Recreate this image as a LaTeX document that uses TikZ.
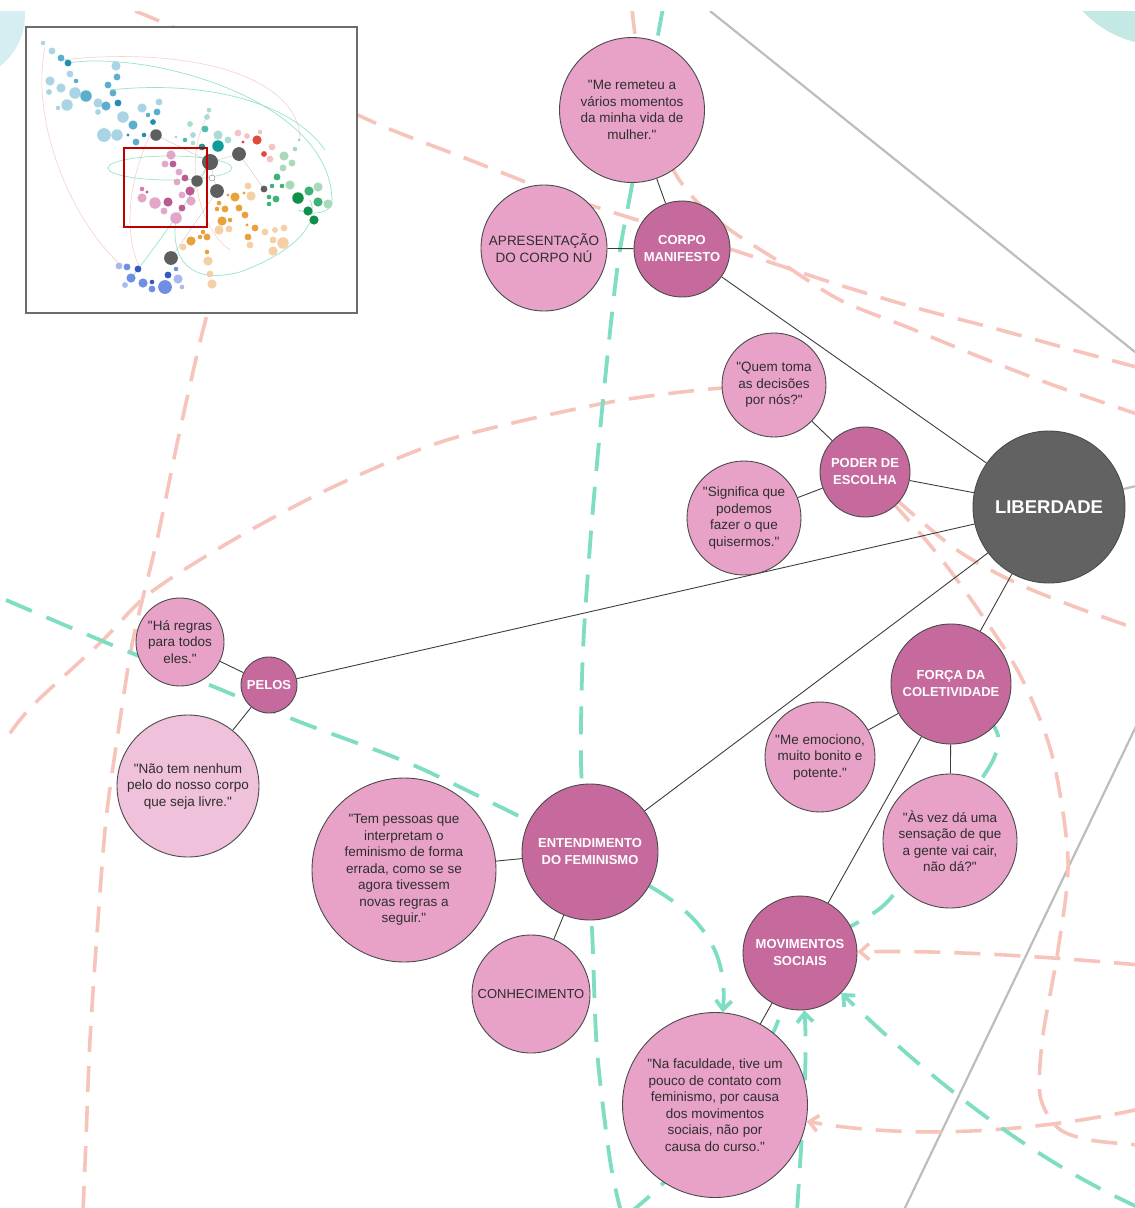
\documentclass[tikz,border=0pt]{standalone}
\usepackage{fontspec}
\setmainfont{Liberation Sans}[Ligatures=TeXOff]
\usetikzlibrary{arrows.meta}
\pgfdeclarelayer{background}
\pgfsetlayers{background,main}
\definecolor{quotefill}{HTML}{E8A2C8}
\definecolor{naofill}{HTML}{EFC1DA}
\definecolor{catfill}{HTML}{C66A9E}
\definecolor{hubfill}{HTML}{626262}
\definecolor{circborder}{HTML}{4A4A4A}
\definecolor{quotetext}{HTML}{2E2E2E}
\definecolor{pinkc}{HTML}{F7C4BC}
\definecolor{greenc}{HTML}{7EDDC2}
\definecolor{grayc}{HTML}{BDBDBD}
\definecolor{linkcol}{HTML}{3D3D3D}
\definecolor{tealtl}{HTML}{D6EEF2}
\definecolor{tealtr}{HTML}{C4E8E4}
% minimap colours
\definecolor{mmtl}{HTML}{A9D4E4}\definecolor{mmtm}{HTML}{5CAFCC}\definecolor{mmtd}{HTML}{1E8FB0}
\definecolor{mmcl}{HTML}{A8DCD4}\definecolor{mmcm}{HTML}{4DBDB0}\definecolor{mmcd}{HTML}{0E9C9A}
\definecolor{mmgy}{HTML}{5E5E5E}
\definecolor{mmrd}{HTML}{E04A3A}\definecolor{mmrl}{HTML}{F2C6C0}
\definecolor{mmgl}{HTML}{A9D9BA}\definecolor{mmgm}{HTML}{3DB276}\definecolor{mmgd}{HTML}{0F8F4A}
\definecolor{mmol}{HTML}{F5CFA5}\definecolor{mmom}{HTML}{E9A23B}
\definecolor{mmpl}{HTML}{E2A6C8}\definecolor{mmpm}{HTML}{D27FAE}\definecolor{mmpd}{HTML}{BE5A92}
\definecolor{mmbl}{HTML}{A9B9EE}\definecolor{mmbm}{HTML}{6E8FE3}\definecolor{mmbd}{HTML}{3656C2}
\newcommand\mmdot[4]{\fill[fill=mm#4] (#1,#2) circle[radius=1.15*#3pt];}
\begin{document}
\begin{tikzpicture}[x=1pt,y=-1pt,
  base/.style={circle, draw=circborder, line width=0.9pt, inner sep=0pt, align=center,
    font=\fontsize{13.5}{16.5}\selectfont},
  quote/.style={base, fill=quotefill, text=quotetext},
  cat/.style={base, fill=catfill, text=white, font=\bfseries\fontsize{13}{17}\selectfont},
  hub/.style={base, fill=hubfill, text=white, font=\bfseries\fontsize{18.5}{22}\selectfont},
  link/.style={draw=linkcol, line width=0.9pt},
  pinkdash/.style={draw=pinkc, line width=3.6pt, dash pattern=on 26pt off 14pt},
  greendash/.style={draw=greenc, line width=3.8pt, dash pattern=on 28pt off 16pt},
  grayline/.style={draw=grayc, line width=2.2pt},
  tiparrow/.style={-{Straight Barb[length=9pt,width=16pt]}},
  mmp/.style={draw=pinkc, line width=0.6pt, opacity=0.8},
  mmt/.style={draw=greenc, line width=0.7pt, opacity=0.8},
  mml/.style={draw=gray, line width=0.3pt, opacity=0.5}]
\useasboundingbox (0,0) rectangle (1135,1208);

% ---------------- circles ----------------
\node[quote, minimum size=145pt] (q1) at (632,110) {"Me remeteu a\\vários momentos\\da minha vida de\\mulher."};
\node[quote, minimum size=126pt, font=\fontsize{13.5}{17}\selectfont] (apres) at (544,248) {APRESENTAÇÃO\\DO CORPO NÚ};
\node[cat, minimum size=96pt] (corpo) at (682,249) {CORPO\\MANIFESTO};
\node[quote, minimum size=104pt] (quem) at (774,385) {"Quem toma\\as decisões\\por nós?"};
\node[cat, minimum size=90pt] (poder) at (865,472) {PODER DE\\ESCOLHA};
\node[quote, minimum size=114pt] (signif) at (744,518) {"Significa que\\podemos\\fazer o que\\quisermos."};
\node[hub, minimum size=152pt] (lib) at (1049,507) {LIBERDADE};
\node[quote, minimum size=88pt] (hares) at (180,642) {"Há regras\\para todos\\eles."};
\node[cat, minimum size=56pt] (pelos) at (269,685) {PELOS};
\node[quote, fill=naofill, minimum size=142pt] (nao) at (188,786) {"Não tem nenhum\\pelo do nosso corpo\\que seja livre."};
\node[quote, minimum size=184pt] (tem) at (404,870) {"Tem pessoas que\\interpretam o\\feminismo de forma\\errada, como se se\\agora tivessem\\novas regras a\\seguir."};
\node[cat, minimum size=136pt] (entend) at (590,852) {ENTENDIMENTO\\DO FEMINISMO};
\node[quote, minimum size=118pt, font=\fontsize{13}{16.5}\selectfont] (conhec) at (531,994) {CONHECIMENTO};
\node[cat, minimum size=120pt] (forca) at (951,684) {FORÇA DA\\COLETIVIDADE};
\node[quote, minimum size=110pt] (emoc) at (820,757) {"Me emociono,\\muito bonito e\\potente."};
\node[quote, minimum size=134pt] (asvez) at (950,841) {"Às vez dá uma\\sensação de que\\a gente vai cair,\\não dá?"};
\node[cat, minimum size=114pt] (movi) at (800,953) {MOVIMENTOS\\SOCIAIS};
\node[quote, minimum size=185pt] (nafac) at (715,1105) {"Na faculdade, tive um\\pouco de contato com\\feminismo, por causa\\dos movimentos\\sociais, não por\\causa do curso."};

% free ends of background curves
\coordinate (p1s) at (135,11);   \coordinate (p1e) at (1140,368);
\coordinate (p2s) at (632,8);    \coordinate (p2e) at (1140,415);
\coordinate (p3e) at (1140,1145);
\coordinate (p4e) at (1140,630);
\coordinate (pae) at (8,736);
\coordinate (p5s) at (228,240);  \coordinate (p5e) at (83,1212);
\coordinate (p6s) at (1140,965);
\coordinate (p7s) at (1140,1109);
\coordinate (g1s) at (663,8);    \coordinate (g1e) at (621,1212);
\coordinate (g2s) at (6,600);
\coordinate (g4s) at (797,1212);
\coordinate (g5s) at (628,1214);
\coordinate (g7s) at (1140,1208);
\coordinate (l1s) at (710,11);   \coordinate (l1e) at (1140,356);
\coordinate (l2e) at (1140,485);
\coordinate (l3s) at (1140,718); \coordinate (l3e) at (903,1212);

\begin{pgfonlayer}{background}
\begin{scope}
\clip (0,11) rectangle (1135,1208);
% corner circles of neighbouring clusters
\fill[tealtl] (-40,15) circle[radius=65pt];
\fill[tealtr] (1160,-60) circle[radius=105pt];
% gray lines
\draw[grayline] (l1s) -- (l1e);
\draw[grayline] (lib) -- (l2e);
\draw[grayline] (l3s) -- (l3e);
% pink dashed curves
\draw[pinkdash] plot[smooth] coordinates {(p1s) (175,28) (280,78) (380,125) (470,160) (560,195) (650,224) (733,250) (833,283) (913,307) (993,328) (1073,350) (p1e)};
\draw[pinkdash] plot[smooth] coordinates {(p2s) (636,40) (652,120) (675,173) (700,205) (733,232) (780,262) (840,300) (907,327) (980,357) (1053,385) (p2e)};
\draw[pinkdash] plot[smooth] coordinates {(poder) (930,545) (975,605) (1020,675) (1052,755) (1068,860) (1058,950) (1043,1035) (1040,1095) (1058,1128) (1090,1140) (p3e)};
\draw[pinkdash] plot[smooth] coordinates {(poder) (950,545) (1010,580) (1070,605) (p4e)};
\draw[pinkdash] plot[smooth] coordinates {(quem) (700,390) (600,404) (447,440) (333,487) (233,540) (150,593) (100,643) (33,705) (pae)};
\draw[pinkdash] plot[smooth] coordinates {(p5s) (203,330) (180,430) (157,540) (133,640) (117,740) (106,820) (98,920) (90,1040) (86,1140) (p5e)};
\draw[pinkdash, tiparrow] (p6s) .. controls (1050,957) and (950,950) .. (movi);
\draw[pinkdash, tiparrow] (p7s) .. controls (1020,1135) and (900,1138) .. (nafac);
% green dashed curves
\draw[greendash] plot[smooth] coordinates {(g1s) (648,90) (632,185) (618,263) (605,380) (592,520) (583,650) (581,760) (586,853) (592,930) (597,1050) (610,1160) (g1e)};
\draw[greendash] plot[smooth] coordinates {(g2s) (100,640) (200,681) (300,722) (420,768) (entend)};
\draw[greendash, tiparrow] (entend) .. controls (700,915) and (728,950) .. (nafac);
\draw[greendash, tiparrow] (g4s) .. controls (802,1130) and (808,1060) .. (movi);
\draw[greendash] (g5s) .. controls (680,1175) and (760,1080) .. (movi);
\draw[greendash] plot[smooth] coordinates {(forca) (995,728) (994,758) (962,806) (910,872) (878,910) (movi)};
\draw[greendash, tiparrow] (g7s) .. controls (1010,1150) and (900,1050) .. (movi);
\end{scope}
% links between circles
\draw[link] (q1) -- (corpo);
\draw[link] (apres) -- (corpo);
\draw[link] (corpo) -- (lib);
\draw[link] (quem) -- (poder);
\draw[link] (signif) -- (poder);
\draw[link] (poder) -- (lib);
\draw[link] (pelos) -- (lib);
\draw[link] (hares) -- (pelos);
\draw[link] (nao) -- (pelos);
\draw[link] (entend) -- (lib);
\draw[link] (tem) -- (entend);
\draw[link] (conhec) -- (entend);
\draw[link] (forca) -- (lib);
\draw[link] (emoc) -- (forca);
\draw[link] (asvez) -- (forca);
\draw[link] (movi) -- (forca);
\draw[link] (nafac) -- (movi);
\end{pgfonlayer}

% ---------------- minimap ----------------
\filldraw[fill=white, draw=gray!85!black, line width=2pt] (26,27) rectangle (357,313);
\begin{scope}
\clip (27,28) rectangle (356,312);
\draw[mmp] (45,47) .. controls (30,120) and (70,220) .. (122,266);
\draw[mmp] (60,60) .. controls (200,45) and (300,80) .. (300,140);
\draw[mmp] (150,135) .. controls (120,200) and (130,250) .. (140,268);
\draw[mmp] (210,110) .. controls (180,160) and (200,230) .. (230,250);
\draw[mmt] (68,63) .. controls (150,50) and (330,100) .. (332,200) .. controls (333,215) and (310,215) .. (298,210);
\draw[mmt] (110,90) .. controls (200,80) and (290,100) .. (325,150);
\draw[mmt] (170,168) ellipse[x radius=62pt, y radius=12pt];
\draw[mmt] (176,218) .. controls (170,260) and (190,285) .. (240,272) .. controls (300,250) and (320,220) .. (310,200);
\draw[mmt] (130,280) .. controls (160,240) and (190,200) .. (210,162);
\draw[mml] (156,135) -- (210,162) -- (239,154) -- (264,189);
\draw[mml] (197,181) -- (210,162) -- (217,191) -- (171,258);
% teal-blue cluster
\mmdot{43}{43}{2}{tl}\mmdot{52}{51}{3}{tl}\mmdot{61}{58}{3}{tm}\mmdot{68}{63}{3}{td}
\mmdot{70}{74}{3}{tl}\mmdot{76}{81}{2}{tm}\mmdot{50}{81}{4}{tl}\mmdot{61}{88}{4}{tl}
\mmdot{49}{92}{2.5}{tl}\mmdot{75}{93}{5}{tl}\mmdot{86}{96}{5}{tm}\mmdot{67}{105}{5}{tl}
\mmdot{58}{108}{2}{tl}\mmdot{98}{103}{4}{tl}\mmdot{106}{106}{4}{tm}\mmdot{98}{112}{2.5}{tl}
\mmdot{116}{66}{4}{tl}\mmdot{117}{77}{3}{tm}\mmdot{108}{85}{3}{tm}\mmdot{113}{93}{3}{tm}
\mmdot{118}{103}{3}{td}\mmdot{123}{117}{5}{tl}\mmdot{133}{125}{4}{tm}\mmdot{104}{135}{6}{tl}
\mmdot{117}{135}{5}{tl}\mmdot{128}{135}{1.5}{td}\mmdot{136}{142}{3}{tm}\mmdot{144}{135}{2}{td}
\mmdot{142}{108}{4}{tl}\mmdot{148}{115}{2}{tm}\mmdot{159}{102}{3}{tl}\mmdot{157}{112}{3}{tm}
\mmdot{153}{122}{2.5}{td}
% cyan cluster
\mmdot{209}{110}{2}{cl}\mmdot{207}{117}{2.5}{cl}\mmdot{190}{124}{2.5}{cl}\mmdot{205}{129}{3}{cm}
\mmdot{193}{135}{2.5}{cl}\mmdot{176}{137}{1.5}{cl}\mmdot{185}{140}{2}{cm}\mmdot{193}{143}{2}{cl}
\mmdot{202}{147}{3}{cd}\mmdot{218}{135}{4}{cl}\mmdot{218}{146}{5}{cd}\mmdot{228}{140}{3}{cl}
\mmdot{238}{133}{3}{rl}
% gray hubs
\mmdot{156}{135}{5}{gy}\mmdot{210}{162}{7}{gy}\mmdot{239}{154}{6}{gy}\mmdot{197}{181}{5}{gy}
\mmdot{217}{191}{6}{gy}\mmdot{171}{258}{6}{gy}\mmdot{264}{189}{3}{gy}
\filldraw[fill=white, draw=gray, line width=0.4pt] (212,178) circle[radius=3pt];
% red cluster
\mmdot{257}{140}{4}{rd}\mmdot{247}{136}{2.5}{rl}\mmdot{243}{142}{1.5}{rd}\mmdot{264}{154}{2.5}{rd}
\mmdot{260}{132}{2}{rl}\mmdot{272}{147}{3}{rl}\mmdot{270}{159}{3}{rl}
% green cluster
\mmdot{284}{156}{4}{gl}\mmdot{292}{163}{3}{gl}\mmdot{283}{168}{3}{gl}\mmdot{295}{149}{2}{gl}
\mmdot{299}{140}{1.5}{gl}\mmdot{277}{177}{3}{gm}\mmdot{272}{186}{2}{gm}\mmdot{282}{186}{2}{gm}
\mmdot{290}{185}{4}{gl}\mmdot{269}{197}{2}{gm}\mmdot{276}{199}{3}{gm}\mmdot{269}{204}{2}{gm}
\mmdot{298}{198}{5}{gd}\mmdot{309}{191}{4}{gm}\mmdot{318}{187}{4}{gl}\mmdot{318}{202}{4}{gm}
\mmdot{328}{204}{4}{gl}\mmdot{308}{211}{4}{gd}\mmdot{314}{220}{4}{gd}
% orange cluster
\mmdot{248}{186}{3}{ol}\mmdot{244}{193}{1.5}{om}\mmdot{251}{196}{4}{ol}\mmdot{235}{197}{4}{om}
\mmdot{228}{195}{1.5}{om}\mmdot{219}{203}{2}{om}\mmdot{217}{209}{2}{om}\mmdot{225}{209}{3}{om}
\mmdot{239}{208}{3}{om}\mmdot{245}{215}{3}{om}\mmdot{222}{221}{4}{om}\mmdot{230}{220}{2}{om}
\mmdot{219}{230}{4}{ol}\mmdot{229}{229}{3}{ol}\mmdot{247}{225}{1.5}{om}\mmdot{255}{228}{3}{om}
\mmdot{265}{232}{3}{ol}\mmdot{275}{230}{2.5}{ol}\mmdot{284}{228}{3}{ol}\mmdot{248}{237}{3}{om}
\mmdot{250}{245}{3}{ol}\mmdot{273}{240}{3}{ol}\mmdot{283}{243}{5}{ol}\mmdot{273}{251}{4}{ol}
\mmdot{203}{232}{2}{om}\mmdot{200}{237}{2}{om}\mmdot{207}{237}{3}{om}\mmdot{207}{252}{2}{om}
\mmdot{191}{241}{4}{om}\mmdot{183}{247}{3}{ol}\mmdot{208}{261}{4}{ol}\mmdot{210}{274}{3}{ol}
\mmdot{212}{284}{4}{ol}
% pink cluster
\mmdot{171}{155}{4}{pl}\mmdot{165}{164}{3}{pl}\mmdot{173}{164}{3}{pd}\mmdot{179}{172}{3}{pl}
\mmdot{185}{178}{3}{pd}\mmdot{177}{182}{3}{pl}\mmdot{142}{189}{2}{pm}\mmdot{147}{192}{1.5}{pd}
\mmdot{142}{198}{4}{pl}\mmdot{155}{203}{5}{pl}\mmdot{168}{202}{4}{pd}\mmdot{164}{211}{3}{pl}
\mmdot{182}{195}{3}{pl}\mmdot{190}{191}{4}{pd}\mmdot{191}{201}{4}{pl}\mmdot{182}{208}{3}{pd}
\mmdot{176}{218}{5}{pl}
% blue cluster
\mmdot{119}{266}{3}{bl}\mmdot{127}{267}{3}{bm}\mmdot{138}{269}{3}{bd}\mmdot{131}{278}{4}{bm}
\mmdot{125}{285}{2.5}{bl}\mmdot{143}{283}{4}{bm}\mmdot{152}{282}{2}{bd}\mmdot{152}{289}{3}{bm}
\mmdot{165}{287}{6}{bm}\mmdot{168}{275}{3}{bd}\mmdot{176}{269}{2}{bm}\mmdot{178}{279}{4}{bl}
\mmdot{182}{287}{2}{bl}
\end{scope}
\draw[draw=red!75!black, line width=1.8pt] (124,148) rectangle (207,227);
\end{tikzpicture}
\end{document}
